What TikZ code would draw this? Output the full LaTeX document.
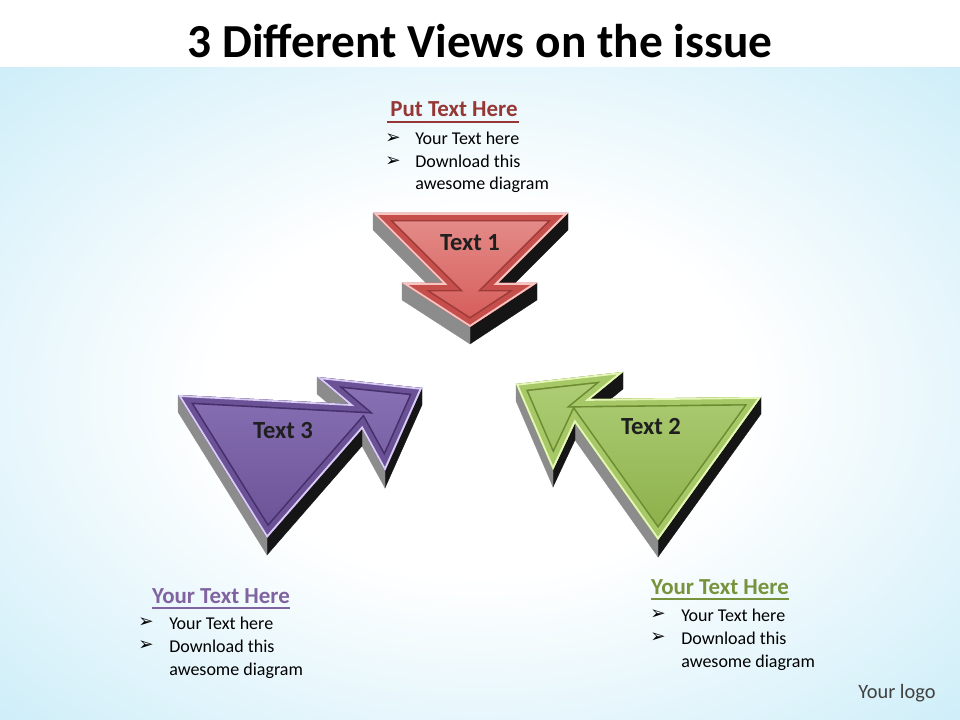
\documentclass[tikz,border=0pt]{standalone}
\usepackage{fontspec}
\setmainfont{Carlito}
\newfontfamily\symfont{DejaVu Sans}
\usetikzlibrary{calc}
\definecolor{bgblue}{HTML}{ADE2F4}
\definecolor{redA}{HTML}{E58E8B}
\definecolor{redB}{HTML}{D45A57}
\definecolor{redRim}{HTML}{C64F4C}
\definecolor{redLine}{HTML}{9E3A38}
\definecolor{redHi}{HTML}{F7C4C1}
\definecolor{purA}{HTML}{8A72B6}
\definecolor{purB}{HTML}{6A5196}
\definecolor{purRim}{HTML}{6B5297}
\definecolor{purLine}{HTML}{45306B}
\definecolor{purHi}{HTML}{D9CCF2}
\definecolor{grnA}{HTML}{B0CF78}
\definecolor{grnB}{HTML}{8AAE47}
\definecolor{grnRim}{HTML}{A6C867}
\definecolor{grnLine}{HTML}{6D8C32}
\definecolor{grnHi}{HTML}{E6F6B8}
\definecolor{sidegray}{HTML}{8C8C8C}
\definecolor{sideblack}{HTML}{151515}
\definecolor{redhead}{HTML}{953735}
\definecolor{purhead}{HTML}{8064A2}
\definecolor{grnhead}{HTML}{77933C}
\definecolor{logogray}{HTML}{404040}
\pgfdeclareradialshading{bgshade}{\pgfpoint{0bp}{0bp}}{color(0bp)=(white);color(14bp)=(white);color(50bp)=(bgblue)}
\newcommand\sideface[3]{\fill[#3,draw=#3,line width=0.2pt] (#1) -- (#2) -- ($(#2)+(0,17)$) -- ($(#1)+(0,17)$) -- cycle;}
\newcommand\arrowface[6]{%
  \shade[top color=#2,bottom color=#3] #1;
  \begin{scope}
    \clip #1;
    \draw[#4,line width=0.42cm,line join=miter,miter limit=4] #1;
    \draw[#5,line width=0.34cm,line join=miter,miter limit=4] #1;
    \draw[#6,line width=0.09cm] #1;
  \end{scope}}
\begin{document}
\begin{tikzpicture}[x=0.025cm,y=-0.025cm,
  title/.style={font=\fontsize{33.7}{40}\selectfont\bfseries, inner sep=0, anchor=base},
  lbl/.style={font=\fontsize{17.5}{21}\selectfont\bfseries, text=black!88, inner sep=0, anchor=base},
  head/.style={font=\fontsize{16.3}{20}\selectfont\bfseries, inner sep=0, anchor=base},
  item/.style={font=\fontsize{12.8}{16}\selectfont, inner sep=0, anchor=base west, text=black},
  bulletglyph/.style={font=\symfont\fontsize{13}{15}\selectfont, inner sep=0, text=black}]
\useasboundingbox (0,0) rectangle (960,720);
\fill[white] (0,0) rectangle (960,720);
\shade[shading=bgshade] (0,68) rectangle (960,720);

\node[title] (title) at (480,58) {3 Different Views on the issue};

% ---------- red arrow (Text 1) ----------
\coordinate (R1) at (373,213);
\coordinate (R2) at (568,213);
\coordinate (R3) at (498,283);
\coordinate (R4) at (537,283);
\coordinate (R5) at (470,327);
\coordinate (R6) at (402,283);
\coordinate (R7) at (443,283);
\def\redpoly{(R1) -- (R2) -- (R3) -- (R4) -- (R5) -- (R6) -- (R7) -- cycle}
\sideface{R2}{R3}{sideblack}
\sideface{R4}{R5}{sideblack}
\sideface{R5}{R6}{sidegray}
\sideface{R7}{R1}{sidegray}
\arrowface{\redpoly}{redA}{redB}{redLine}{redRim}{redHi}
\node[lbl] (t1) at (470,251) {Text 1};

% ---------- purple arrow (Text 3) ----------
\coordinate (P1) at (178,395);
\coordinate (P2) at (349,404);
\coordinate (P3) at (317,377);
\coordinate (P4) at (422,388);
\coordinate (P5) at (385,471);
\coordinate (P6) at (362,429);
\coordinate (P7) at (267,538);
\def\purpoly{(P1) -- (P2) -- (P3) -- (P4) -- (P5) -- (P6) -- (P7) -- cycle}
\sideface{P2}{P3}{sidegray}
\sideface{P4}{P5}{sideblack}
\sideface{P5}{P6}{sidegray}
\sideface{P6}{P7}{sideblack}
\sideface{P7}{P1}{sidegray}
\arrowface{\purpoly}{purA}{purB}{purLine}{purRim}{purHi}
\node[lbl] (t3) at (283,439) {Text 3};

% ---------- green arrow (Text 2) ----------
\coordinate (G1) at (516,384);
\coordinate (G2) at (623,372);
\coordinate (G3) at (590,399);
\coordinate (G4) at (761,397);
\coordinate (G5) at (658,540);
\coordinate (G6) at (575,423);
\coordinate (G7) at (553,470);
\def\grnpoly{(G1) -- (G2) -- (G3) -- (G4) -- (G5) -- (G6) -- (G7) -- cycle}
\sideface{G2}{G3}{sideblack}
\sideface{G4}{G5}{sideblack}
\sideface{G5}{G6}{sidegray}
\sideface{G6}{G7}{sideblack}
\sideface{G7}{G1}{sidegray}
\arrowface{\grnpoly}{grnA}{grnB}{grnLine}{grnRim}{grnHi}
\node[lbl] (t2) at (651,435) {Text 2};

% ---------- top text block ----------
\node[head, text=redhead] (h1) at (454,117) {Put Text Here};
\draw[redhead, line width=1.1pt] ($(h1.base west)+(-3,5)$) -- ($(h1.base east)+(1,5)$);
\node[bulletglyph] (b11) at (393,139) {➢};
\node[item] (i11) at (415,145) {Your Text here};
\node[bulletglyph] (b12) at (393,161.5) {➢};
\node[item] (i12) at (415,167.5) {Download this};
\node[item] (i13) at (415,190) {awesome diagram};

% ---------- left text block ----------
\node[head, text=purhead] (h3) at (221,603) {Your Text Here};
\draw[purhead, line width=1.1pt] ($(h3.base west)+(0,5)$) -- ($(h3.base east)+(0,5)$);
\node[bulletglyph] (b31) at (146,623) {➢};
\node[item] (i31) at (169,629) {Your Text here};
\node[bulletglyph] (b32) at (146,646) {➢};
\node[item] (i32) at (169,652) {Download this};
\node[item] (i33) at (169,675) {awesome diagram};

% ---------- right text block ----------
\node[head, text=grnhead] (h2) at (720,594) {Your Text Here};
\draw[grnhead, line width=1.1pt] ($(h2.base west)+(0,5)$) -- ($(h2.base east)+(0,5)$);
\node[bulletglyph] (b21) at (658,615) {➢};
\node[item] (i21) at (681,621) {Your Text here};
\node[bulletglyph] (b22) at (658,638) {➢};
\node[item] (i22) at (681,644) {Download this};
\node[item] (i23) at (681,667) {awesome diagram};

\node[font=\fontsize{14.5}{17}\selectfont, text=logogray, inner sep=0, anchor=base] (logo) at (897,698) {Your logo};
\end{tikzpicture}
\end{document}
